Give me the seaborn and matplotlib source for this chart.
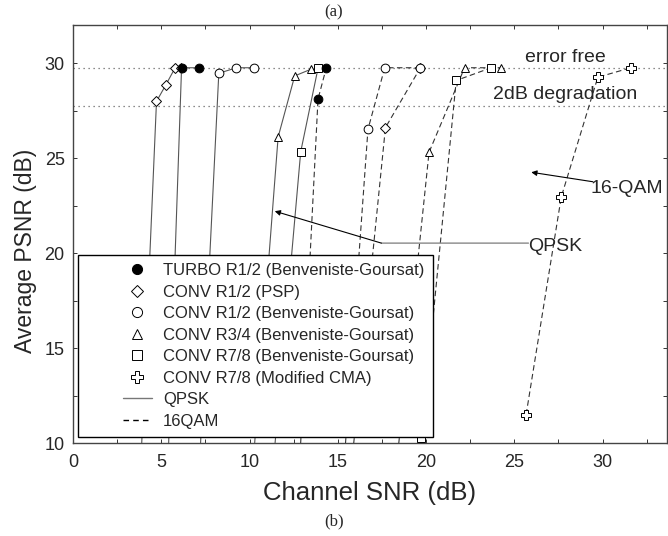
import numpy as np
import pandas as pd
import matplotlib
matplotlib.use("Agg")
import matplotlib.pyplot as plt
import seaborn as sns
from matplotlib.lines import Line2D
from matplotlib.legend_handler import HandlerLine2D
from matplotlib.ticker import MultipleLocator

# ---------------- data ----------------
turbo_qpsk_x = [5.40, 6.15, 7.15]
turbo_qpsk_y = [9.5, 29.75, 29.75]
turbo_16_x = [12.87, 13.88, 14.35]
turbo_16_y = [9.5, 28.1, 29.75]

psp_qpsk_x = [3.87, 4.73, 5.26, 5.77, 6.12]
psp_qpsk_y = [9.5, 27.98, 28.85, 29.72, 29.75]
psp_16_x = [15.85, 17.70, 19.68]
psp_16_y = [9.5, 26.6, 29.75]

bg12_qpsk_x = [7.20, 8.26, 9.26, 10.26]
bg12_qpsk_y = [9.5, 29.46, 29.75, 29.75]
bg12_16_x = [15.40, 16.71, 17.66, 19.68]
bg12_16_y = [9.5, 26.51, 29.75, 29.75]

bg34_qpsk_x = [10.25, 11.62, 12.56, 13.50]
bg34_qpsk_y = [9.5, 26.1, 29.32, 29.68]
bg34_16_x = [18.40, 20.17, 22.18, 24.22]
bg34_16_y = [9.5, 25.3, 29.75, 29.75]

bg78_qpsk_x = [11.40, 12.90, 13.88]
bg78_qpsk_y = [9.5, 25.33, 29.72]
bg78_16_x = [19.73, 21.71, 23.69]
bg78_16_y = [10.28, 29.08, 29.75]

cma_16_x = [25.67, 27.66, 29.73, 31.60]
cma_16_y = [11.5, 22.95, 29.25, 29.75]

legend_labels = ["TURBO R1/2 (Benveniste-Goursat)", "CONV R1/2 (PSP)",
                 "CONV R1/2 (Benveniste-Goursat)", "CONV R3/4 (Benveniste-Goursat)",
                 "CONV R7/8 (Benveniste-Goursat)", "CONV R7/8 (Modified CMA)"]
mod_labels = ["QPSK", "16QAM"]

error_free = 29.75
degradation = 27.75

# ---------------- table ----------------
series = [
    ("turbo", "QPSK", turbo_qpsk_x, turbo_qpsk_y),
    ("turbo", "16QAM", turbo_16_x, turbo_16_y),
    ("psp", "QPSK", psp_qpsk_x, psp_qpsk_y),
    ("psp", "16QAM", psp_16_x, psp_16_y),
    ("bg12", "QPSK", bg12_qpsk_x, bg12_qpsk_y),
    ("bg12", "16QAM", bg12_16_x, bg12_16_y),
    ("bg34", "QPSK", bg34_qpsk_x, bg34_qpsk_y),
    ("bg34", "16QAM", bg34_16_x, bg34_16_y),
    ("bg78", "QPSK", bg78_qpsk_x, bg78_qpsk_y),
    ("bg78", "16QAM", bg78_16_x, bg78_16_y),
    ("cma", "16QAM", cma_16_x, cma_16_y),
]
rows = []
for code, mod, xs, ys in series:
    for x, y in zip(xs, ys):
        rows.append({"code": code, "mod": mod, "snr": x, "psnr": y})
df = pd.DataFrame(rows)

marker_of = {"turbo": "o", "psp": "D", "bg12": "o", "bg34": "^", "bg78": "s", "cma": "P"}
msize_of = {"turbo": 6.3, "psp": 5.2, "bg12": 6.3, "bg34": 6.3, "bg78": 6.3, "cma": 7.5}
fill_of = {"turbo": "black"}
dash_of = {"QPSK": "-", "16QAM": (0, (5, 3))}
lcol = {"QPSK": "#555555", "16QAM": "#333333"}

sns.set_style("ticks")
plt.rcParams["font.family"] = ["Liberation Sans", "DejaVu Sans"]

fig = plt.figure(figsize=(6.68, 5.36), dpi=100)
ax = fig.add_axes([73 / 668, 1 - 443 / 536, 594 / 668, 418 / 536])

ax.axhline(error_free, color="#666666", lw=0.9, ls=(0, (1, 3)), zorder=1)
ax.axhline(degradation, color="#666666", lw=0.9, ls=(0, (1, 3)), zorder=1)

draw_order = ["psp", "bg12", "bg34", "bg78", "cma", "turbo"]
for code in draw_order:
    for mod in ["QPSK", "16QAM"]:
        sub = df[(df.code == code) & (df["mod"] == mod)]
        if sub.empty:
            continue
        sns.lineplot(data=sub, x="snr", y="psnr", sort=False, estimator=None, ax=ax,
                     color=lcol[mod], lw=0.8, linestyle=dash_of[mod],
                     marker=marker_of[code], markersize=msize_of[code],
                     markerfacecolor=fill_of.get(code, "white"),
                     markeredgecolor="black", markeredgewidth=0.7, zorder=3)

ax.set_xlim(0, 33.65)
ax.set_ylim(10, 32)
ax.xaxis.set_major_locator(MultipleLocator(5))
ax.yaxis.set_major_locator(MultipleLocator(5))
ax.xaxis.set_minor_locator(MultipleLocator(2.5))
ax.yaxis.set_minor_locator(MultipleLocator(2.5))
ax.tick_params(which="both", direction="in", top=True, right=True,
               length=3, width=0.7, color="#333333")
ax.tick_params(axis="x", which="major", labelsize=13, pad=8)
ax.tick_params(axis="y", which="major", labelsize=13, pad=6)
for s in ax.spines.values():
    s.set_linewidth(1.0)
    s.set_color("#444444")

ax.set_xlabel("Channel SNR (dB)", fontsize=18.5)
ax.set_ylabel("Average PSNR (dB)", fontsize=16.5)
ax.xaxis.set_label_coords(0.5, -0.09)
ax.yaxis.set_label_coords(-0.06, 0.46)

# annotations
ax.text(25.58, 30.31, "error free", fontsize=14, va="center", ha="left")
ax.text(23.77, 28.33, "2dB degradation", fontsize=14, va="center", ha="left")
ax.text(29.3, 23.4, "16-QAM", fontsize=14, va="center", ha="left")
ax.annotate("", xy=(25.96, 24.25), xytext=(29.45, 23.75),
            arrowprops=dict(arrowstyle="-|>", lw=0.8, color="black", mutation_scale=8,
                            shrinkA=0, shrinkB=0))
ax.text(25.8, 20.35, "QPSK", fontsize=14, va="center", ha="left")
ax.annotate("", xy=(17.47, 20.52), xytext=(25.8, 20.52),
            arrowprops=dict(arrowstyle="-", lw=1.0, color="#888888", shrinkA=0, shrinkB=0))
ax.annotate("", xy=(11.43, 22.2), xytext=(17.47, 20.52),
            arrowprops=dict(arrowstyle="-|>", lw=0.8, color="black", mutation_scale=8,
                            shrinkA=0, shrinkB=0))


class LeftMarkerHandler(HandlerLine2D):
    def get_xdata(self, legend, xdescent, ydescent, width, height, fontsize):
        x0 = -xdescent
        return (np.array([x0 + 0.56 * width, x0 + width]),
                np.array([x0 + 0.24 * width]))


codes = ["turbo", "psp", "bg12", "bg34", "bg78", "cma"]
handles = []
for c in codes:
    handles.append(Line2D([], [], ls="none", marker=marker_of[c],
                          markersize=msize_of[c] + 1.0,
                          markerfacecolor=fill_of.get(c, "white"),
                          markeredgecolor="black", markeredgewidth=0.7))
handles.append(Line2D([], [], color="#777777", lw=1.0, ls="-"))
handles.append(Line2D([], [], color="black", lw=1.0, ls=(0, (4, 3))))
labels = legend_labels + mod_labels
hm = {h: LeftMarkerHandler() for h in handles}
leg = ax.legend(handles, labels, handler_map=hm, loc="lower left",
                bbox_to_anchor=(0.008, 0.014), borderaxespad=0, fontsize=12,
                frameon=True, fancybox=False, framealpha=1, edgecolor="black",
                handlelength=3.95, handletextpad=0.66, labelspacing=0.39,
                borderpad=0.5)
leg.get_frame().set_linewidth(1.0)

fig.text(0.5, 1 - 12 / 536, "(a)", ha="center", va="center", fontsize=12,
         family=["Liberation Serif", "DejaVu Serif"])
fig.text(0.5, 1 - 521 / 536, "(b)", ha="center", va="center", fontsize=12,
         family=["Liberation Serif", "DejaVu Serif"])

fig.savefig("out.png", dpi=100)
